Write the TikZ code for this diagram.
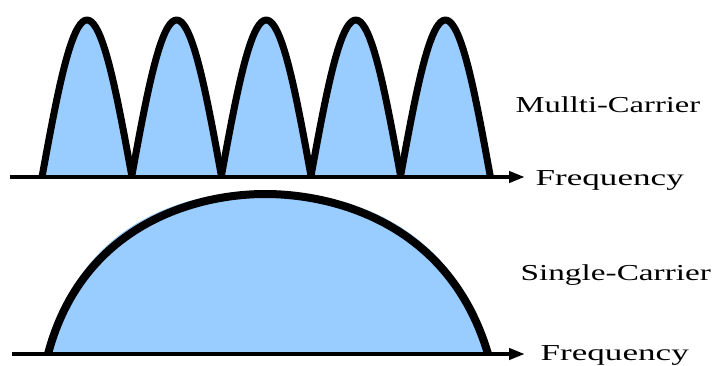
\documentclass[tikz,border=0pt]{standalone}
\usepackage{fontspec}
\setmainfont{Liberation Serif}
\usetikzlibrary{arrows.meta}
\definecolor{lobeblue}{RGB}{153,204,255}

\begin{document}
\begin{tikzpicture}[x=0.5pt,y=0.5pt,font=\fontsize{11.4}{13}\selectfont,
  axisline/.style={line width=2.3pt,-{Triangle[length=8pt,width=5.5pt]}},
  curveline/.style={line width=3.5pt,line join=round},
  textlabel/.style={anchor=base west,inner sep=0pt}]
  \useasboundingbox (0,0) rectangle (717,365);

  \foreach \lx in {87,176.6,266.2,355.8,445.4} {
    \fill[lobeblue] plot[domain=-1:1,samples=41] ({\lx-1+47*\x},{188+159*cos(90*\x)});
    \draw[curveline] plot[domain=-1:1,samples=41] ({\lx+45*\x},{188+157*cos(90*\x)});
  }
  \coordinate (mcstart) at (10,188);
  \coordinate (mcend) at (525,188);
  \draw[axisline] (mcstart) -- (mcend);
  \node[textlabel,xscale=1.43] (mclabel) at (515,253) {Mullti-Carrier};
  \node[textlabel,xscale=1.54] (mcfreq) at (535,180) {Frequency};

  \fill[lobeblue] (48,11) .. controls (77,147) and (192,174) .. (264,174)
    .. controls (339,174) and (455,146) .. (488,11) -- cycle;
  \draw[curveline,line width=4pt] (48,11) .. controls (82,140) and (195,171) .. (265,171)
    .. controls (337,171) and (450,140) .. (488,11);
  \coordinate (scstart) at (12,11);
  \coordinate (scend) at (525,11);
  \draw[axisline] (scstart) -- (scend);
  \node[textlabel,xscale=1.46] (sclabel) at (520,85) {Single-Carrier};
  \node[textlabel,xscale=1.54] (scfreq) at (540,5) {Frequency};
\end{tikzpicture}
\end{document}
